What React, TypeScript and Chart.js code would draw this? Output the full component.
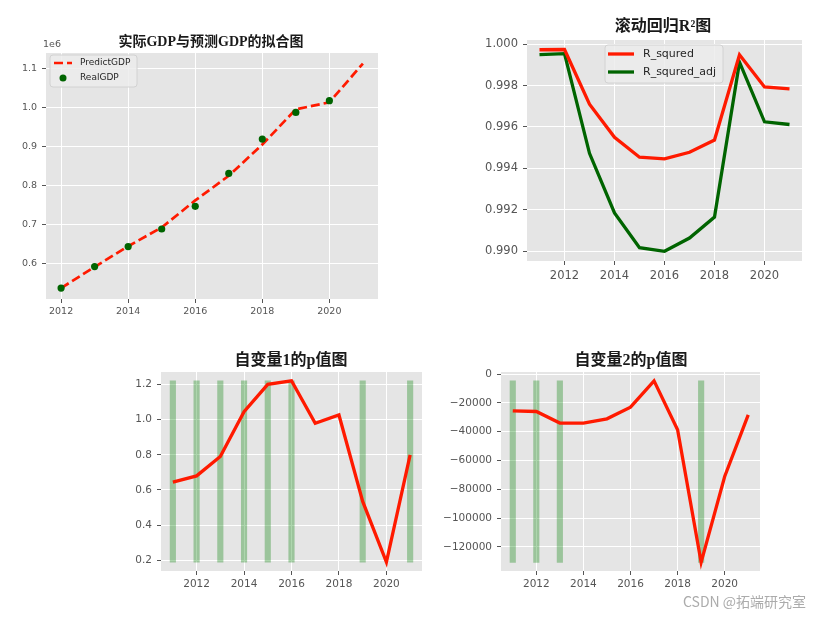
import React, { useEffect, useRef } from 'react';
import { Chart, registerables } from 'chart.js';

Chart.register(...registerables);

// ---------- data ----------
const GDP_YEARS = [2012, 2013, 2014, 2015, 2016, 2017, 2018, 2019, 2020, 2021];
const PREDICT_GDP = [538000, 592000, 645000, 693000, 762000, 825000, 905000, 995000, 1013000, 1112000];
const REAL_YEARS = [2012, 2013, 2014, 2015, 2016, 2017, 2018, 2019, 2020];
const REAL_GDP = [538000, 593000, 644000, 689000, 747000, 831000, 919000, 987000, 1017000];

const YEARS = [2011, 2012, 2013, 2014, 2015, 2016, 2017, 2018, 2019, 2020, 2021];
const R_SQUARED = [0.99973, 0.99974, 0.9971, 0.9955, 0.99454, 0.99446, 0.99478, 0.99537, 0.99949, 0.99793, 0.99784];
const R_SQUARED_ADJ = [0.99949, 0.99954, 0.99473, 0.99185, 0.99017, 0.99, 0.99064, 0.99165, 0.99913, 0.99625, 0.99612];

const P_VALUE_1 = [0.645, 0.68, 0.79, 1.045, 1.2, 1.22, 0.979, 1.026, 0.535, 0.19, 0.8];
const P1_MARK_YEARS = [2011, 2012, 2013, 2014, 2015, 2016, 2019, 2021];
const P_VALUE_2 = [-25460, -25940, -33990, -34000, -31000, -22890, -4650, -38630, -130680, -71030, -28230];
const P2_MARK_YEARS = [2011, 2012, 2013, 2019];

const X_TICKS = [2012, 2014, 2016, 2018, 2020];
const GDP_Y_TICKS = [600000, 700000, 800000, 900000, 1000000, 1100000];
const R2_Y_TICKS = [0.99, 0.992, 0.994, 0.996, 0.998, 1.0];
const P1_Y_TICKS = [0.2, 0.4, 0.6, 0.8, 1.0, 1.2];
const P2_Y_TICKS = [-120000, -100000, -80000, -60000, -40000, -20000, 0];

// ---------- styling ----------
const RED = '#ff1a00';
const DARK_GREEN = '#006400';
const BAR_GREEN = 'rgba(0,128,0,0.32)';
const TICK_COLOR = '#555555';
const TITLE_FONT = "'Liberation Serif', 'Noto Sans CJK SC', serif";
const TICK_FONT = "'DejaVu Sans', sans-serif";

type LegendItem = { kind: 'dash' | 'line' | 'dot'; color: string; label: string };
type Spec = {
  width: number;
  height: number;
  area: { left: number; top: number; right: number; bottom: number };
  xMin: number;
  xMax: number;
  xTicks: number[];
  yMin: number;
  yMax: number;
  yTicks: number[];
  yFmt: (v: number) => string;
  fontSize: number;
  xPad: number;
  title: { text: string; x: number; y: number; size: number };
  datasets: any[];
  legend?: {
    box: { x: number; y: number; w: number; h: number };
    items: LegendItem[];
    sampleX: number;
    sampleW: number;
    textX: number;
    rowY: number[];
    fontSize: number;
    lineWidth: number;
  };
  extra?: (ctx: CanvasRenderingContext2D, chart: any) => void;
};

const bgPlugin = {
  id: 'bgPlugin',
  beforeDraw(chart: any) {
    const { ctx, chartArea } = chart;
    ctx.save();
    ctx.fillStyle = '#ffffff';
    ctx.fillRect(0, 0, chart.width, chart.height);
    ctx.fillStyle = '#e5e5e5';
    ctx.fillRect(chartArea.left, chartArea.top, chartArea.right - chartArea.left, chartArea.bottom - chartArea.top);
    ctx.restore();
  },
};

function decoPlugin(s: Spec) {
  return {
    id: 'decoPlugin',
    afterDraw(chart: any) {
      const ctx: CanvasRenderingContext2D = chart.ctx;
      ctx.save();
      // title
      ctx.fillStyle = '#1a1a1a';
      ctx.font = `bold ${s.title.size}px ${TITLE_FONT}`;
      ctx.textAlign = 'center';
      ctx.textBaseline = 'middle';
      ctx.fillText(s.title.text, s.title.x, s.title.y);
      // legend
      if (s.legend) {
        const L = s.legend;
        ctx.beginPath();
        const r = 3;
        const { x, y, w, h } = L.box;
        ctx.moveTo(x + r, y);
        ctx.arcTo(x + w, y, x + w, y + h, r);
        ctx.arcTo(x + w, y + h, x, y + h, r);
        ctx.arcTo(x, y + h, x, y, r);
        ctx.arcTo(x, y, x + w, y, r);
        ctx.closePath();
        ctx.fillStyle = 'rgba(236,236,236,0.85)';
        ctx.fill();
        ctx.strokeStyle = '#d2d2d2';
        ctx.lineWidth = 1;
        ctx.stroke();
        L.items.forEach((it, i) => {
          const yy = L.rowY[i];
          if (it.kind === 'dot') {
            ctx.beginPath();
            ctx.arc(L.sampleX + L.sampleW / 2, yy, 3.5, 0, Math.PI * 2);
            ctx.fillStyle = it.color;
            ctx.fill();
          } else {
            ctx.beginPath();
            ctx.setLineDash(it.kind === 'dash' ? [9, 4] : []);
            ctx.lineWidth = L.lineWidth;
            ctx.strokeStyle = it.color;
            ctx.moveTo(L.sampleX, yy);
            ctx.lineTo(L.sampleX + L.sampleW, yy);
            ctx.stroke();
            ctx.setLineDash([]);
          }
          ctx.fillStyle = '#262626';
          ctx.font = `${L.fontSize}px ${TICK_FONT}`;
          ctx.textAlign = 'left';
          ctx.textBaseline = 'middle';
          ctx.fillText(it.label, L.textX, yy);
        });
      }
      if (s.extra) s.extra(ctx, chart);
      ctx.restore();
    },
  };
}

function buildConfig(s: Spec): any {
  const HX = 20;
  const gridOpts = { color: '#ffffff', lineWidth: 1, tickColor: TICK_COLOR, tickLength: 4, drawTicks: true, offset: false };
  return {
    type: 'line',
    data: { datasets: s.datasets },
    options: {
      animation: false,
      responsive: false,
      maintainAspectRatio: false,
      devicePixelRatio: 1,
      layout: {
        padding: {
          left: 0,
          top: s.area.top,
          right: s.width - s.area.right,
          bottom: s.height - s.area.bottom - HX,
        },
      },
      plugins: { legend: { display: false }, tooltip: { enabled: false }, title: { display: false } },
      scales: {
        x: {
          type: 'linear',
          min: s.xMin,
          max: s.xMax,
          offset: false,
          grid: gridOpts,
          border: { display: false },
          afterFit: (sc: any) => {
            sc.height = HX;
          },
          afterBuildTicks: (sc: any) => {
            sc.ticks = s.xTicks.map((v) => ({ value: v }));
          },
          ticks: {
            color: TICK_COLOR,
            font: { family: TICK_FONT, size: s.fontSize },
            padding: s.xPad,
            maxRotation: 0,
            autoSkip: false,
            callback: (v: any) => String(v),
          },
        },
        y: {
          type: 'linear',
          min: s.yMin,
          max: s.yMax,
          grid: gridOpts,
          border: { display: false },
          afterFit: (sc: any) => {
            sc.width = s.area.left;
          },
          afterBuildTicks: (sc: any) => {
            sc.ticks = s.yTicks.map((v) => ({ value: v }));
          },
          ticks: {
            color: TICK_COLOR,
            font: { family: TICK_FONT, size: s.fontSize },
            padding: 5,
            autoSkip: false,
            callback: (v: any) => s.yFmt(Number(v)),
          },
        },
      },
    },
    plugins: [bgPlugin, decoPlugin(s)],
  };
}

function Panel({ spec, left, top }: { spec: Spec; left: number; top: number }) {
  const ref = useRef<HTMLCanvasElement | null>(null);
  useEffect(() => {
    const chart = new Chart(ref.current as HTMLCanvasElement, buildConfig(spec));
    return () => chart.destroy();
  }, []);
  return (
    <canvas
      ref={ref}
      width={spec.width}
      height={spec.height}
      style={{ position: 'absolute', left, top, width: spec.width, height: spec.height }}
    />
  );
}

const pts = (xs: number[], ys: number[]) => xs.map((x, i) => ({ x, y: ys[i] }));
const markBars = (years: number[], values: number[]) => {
  const lo = Math.min(...values);
  const hi = Math.max(...values);
  return years.map((x) => ({ x, y: [lo, hi] }));
};

const gdpSpec: Spec = {
  width: 400,
  height: 320,
  area: { left: 46, top: 53, right: 378, bottom: 299 },
  xMin: 2011.55,
  xMax: 2021.45,
  xTicks: X_TICKS,
  yMin: 510000,
  yMax: 1139000,
  yTicks: GDP_Y_TICKS,
  yFmt: (v) => (v / 1e6).toFixed(1),
  fontSize: 9.5,
  xPad: 3,
  title: { text: '实际GDP与预测GDP的拟合图', x: 211, y: 42, size: 14 },
  datasets: [
    {
      label: 'RealGDP',
      data: pts(REAL_YEARS, REAL_GDP),
      showLine: false,
      pointRadius: 3.6,
      pointBackgroundColor: DARK_GREEN,
      pointBorderWidth: 0,
      order: 0,
    },
    {
      label: 'PredictGDP',
      data: pts(GDP_YEARS, PREDICT_GDP),
      borderColor: RED,
      borderWidth: 2.7,
      borderDash: [9, 4],
      pointRadius: 0,
      tension: 0,
      fill: false,
      order: 1,
    },
  ],
  legend: {
    box: { x: 50, y: 55, w: 87, h: 32 },
    items: [
      { kind: 'dash', color: RED, label: 'PredictGDP' },
      { kind: 'dot', color: DARK_GREEN, label: 'RealGDP' },
    ],
    sampleX: 54,
    sampleW: 18,
    textX: 80,
    rowY: [63, 78],
    fontSize: 9,
    lineWidth: 2.7,
  },
  extra: (ctx) => {
    ctx.fillStyle = TICK_COLOR;
    ctx.font = `9.5px ${TICK_FONT}`;
    ctx.textAlign = 'left';
    ctx.textBaseline = 'middle';
    ctx.fillText('1e6', 43, 45);
  },
};

const r2Spec: Spec = {
  width: 421,
  height: 320,
  area: { left: 127, top: 40, right: 402, bottom: 261 },
  xMin: 2010.5,
  xMax: 2021.5,
  xTicks: X_TICKS,
  yMin: 0.98953,
  yMax: 1.0002,
  yTicks: R2_Y_TICKS,
  yFmt: (v) => v.toFixed(3),
  fontSize: 11.5,
  xPad: 4,
  title: { text: '滚动回归R²图', x: 263, y: 27, size: 16 },
  datasets: [
    {
      label: 'R_squred',
      data: pts(YEARS, R_SQUARED),
      borderColor: RED,
      borderWidth: 3.3,
      pointRadius: 0,
      tension: 0,
      fill: false,
    },
    {
      label: 'R_squred_adj',
      data: pts(YEARS, R_SQUARED_ADJ),
      borderColor: DARK_GREEN,
      borderWidth: 3.3,
      pointRadius: 0,
      tension: 0,
      fill: false,
    },
  ],
  legend: {
    box: { x: 205, y: 45, w: 118, h: 38 },
    items: [
      { kind: 'line', color: RED, label: 'R_squred' },
      { kind: 'line', color: DARK_GREEN, label: 'R_squred_adj' },
    ],
    sampleX: 208,
    sampleW: 26,
    textX: 243,
    rowY: [54, 72],
    fontSize: 11,
    lineWidth: 3.3,
  },
};

const p1Spec: Spec = {
  width: 330,
  height: 288,
  area: { left: 61, top: 42, right: 322, bottom: 241 },
  xMin: 2010.5,
  xMax: 2021.5,
  xTicks: X_TICKS,
  yMin: 0.14,
  yMax: 1.27,
  yTicks: P1_Y_TICKS,
  yFmt: (v) => v.toFixed(1),
  fontSize: 10.5,
  xPad: 3,
  title: { text: '自变量1的p值图', x: 191, y: 31, size: 16 },
  datasets: [
    {
      type: 'bar',
      label: 'marks',
      data: markBars(P1_MARK_YEARS, P_VALUE_1),
      backgroundColor: BAR_GREEN,
      borderWidth: 0,
      barThickness: 5.5,
      order: 2,
    },
    {
      label: 'p1',
      data: pts(YEARS, P_VALUE_1),
      borderColor: RED,
      borderWidth: 3.3,
      pointRadius: 0,
      tension: 0,
      fill: false,
      order: 1,
    },
  ],
};

const p2Spec: Spec = {
  width: 391,
  height: 288,
  area: { left: 71, top: 42, right: 330, bottom: 241 },
  xMin: 2010.5,
  xMax: 2021.5,
  xTicks: X_TICKS,
  yMin: -136700,
  yMax: 1500,
  yTicks: P2_Y_TICKS,
  yFmt: (v) => (v === 0 ? '0' : (v < 0 ? '\u2212' : '') + String(Math.abs(v))),
  fontSize: 10.5,
  xPad: 3,
  title: { text: '自变量2的p值图', x: 201, y: 31, size: 16 },
  datasets: [
    {
      type: 'bar',
      label: 'marks',
      data: markBars(P2_MARK_YEARS, P_VALUE_2),
      backgroundColor: BAR_GREEN,
      borderWidth: 0,
      barThickness: 5.5,
      order: 2,
    },
    {
      label: 'p2',
      data: pts(YEARS, P_VALUE_2),
      borderColor: RED,
      borderWidth: 3.3,
      pointRadius: 0,
      tension: 0,
      fill: false,
      order: 1,
    },
  ],
};

export default function App() {
  return (
    <div style={{ position: 'absolute', left: 0, top: 0, width: 821, height: 618, background: '#ffffff', overflow: 'hidden' }}>
      <Panel spec={gdpSpec} left={0} top={0} />
      <Panel spec={r2Spec} left={400} top={0} />
      <Panel spec={p1Spec} left={100} top={330} />
      <Panel spec={p2Spec} left={430} top={330} />
      <div
        style={{
          position: 'absolute',
          left: 683,
          top: 592,
          fontFamily: "'Noto Sans CJK SC', sans-serif",
          fontSize: 14,
          lineHeight: '18px',
          color: 'rgba(150,150,150,0.8)',
          whiteSpace: 'nowrap',
        }}
      >
        CSDN @拓端研究室
      </div>
    </div>
  );
}
